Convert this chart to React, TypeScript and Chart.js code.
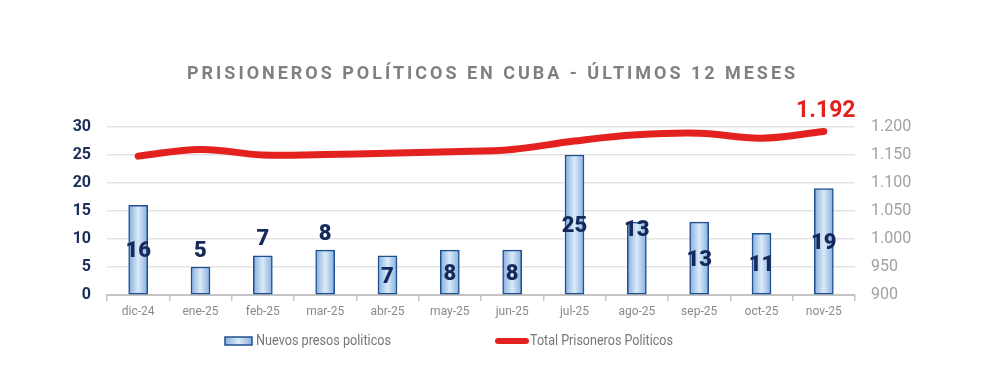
import React, { useEffect, useRef } from 'react';
import { Chart, registerables } from 'chart.js';

Chart.register(...registerables);

const categories = ['dic-24', 'ene-25', 'feb-25', 'mar-25', 'abr-25', 'may-25', 'jun-25', 'jul-25', 'ago-25', 'sep-25', 'oct-25', 'nov-25'];
const nuevosPresos = [16, 5, 7, 8, 7, 8, 8, 25, 13, 13, 11, 19];
const totalPrisioneros = [1148, 1160, 1150, 1151, 1153, 1156, 1160, 1175, 1186, 1189, 1180, 1192];
const labelPlacement = ['mid', 'above', 'above', 'above', 'mid', 'mid', 'mid', 'mid', 'top', 'mid', 'mid', 'mid'];
const titleText = 'PRISIONEROS POLÍTICOS EN CUBA - ÚLTIMOS 12 MESES';
const latestLabel = '1.192';
const seriesNames = ['Nuevos presos politicos', 'Total Prisoneros Politicos'];

const FONT = 'Roboto, "Noto Sans", sans-serif';
const NAVY = '#15295a';
const RED = '#e3211f';
const BAR_BORDER = '#1f4f8f';

function fmtThousands(v: number): string {
  if (Math.abs(v) >= 1000) {
    const t = Math.floor(v / 1000);
    const r = Math.round(v % 1000);
    return t + '.' + String(r).padStart(3, '0');
  }
  return String(v);
}

function barGradient(ctx: CanvasRenderingContext2D, x: number, half: number) {
  const g = ctx.createLinearGradient(x - half, 0, x + half, 0);
  g.addColorStop(0, '#84aede');
  g.addColorStop(0.5, '#dbeaf9');
  g.addColorStop(1, '#84aede');
  return g;
}

function fitText(ctx: CanvasRenderingContext2D, text: string, x: number, y: number, width: number) {
  const w = ctx.measureText(text).width;
  const sx = w > 0 ? width / w : 1;
  ctx.save();
  ctx.translate(x, y);
  ctx.scale(sx, 1);
  ctx.fillText(text, 0, 0);
  ctx.restore();
}

const decorPlugin = {
  id: 'decor',
  beforeDatasetsDraw(chart: any) {
    const meta = chart.getDatasetMeta(1);
    meta.data.forEach((bar: any) => {
      if (!isFinite(bar.x)) return;
      const half = (bar.width || 19) / 2;
      bar.options = Object.assign({}, bar.options, { backgroundColor: barGradient(chart.ctx, bar.x, half) });
    });
  },
  afterDraw(chart: any) {
    const ctx: CanvasRenderingContext2D = chart.ctx;
    // Title
    ctx.save();
    ctx.font = `bold 18px ${FONT}`;
    ctx.fillStyle = '#808080';
    ctx.textBaseline = 'middle';
    ctx.textAlign = 'left';
    const targetW = 608;
    const raw = ctx.measureText(titleText).width;
    const n = titleText.length;
    const ls = (targetW - raw) / (n - 1);
    (ctx as any).letterSpacing = ls.toFixed(2) + 'px';
    ctx.fillText(titleText, 187, 74);
    (ctx as any).letterSpacing = '0px';
    ctx.restore();

    // Bar value labels
    const meta = chart.getDatasetMeta(1);
    ctx.save();
    ctx.font = `900 22px ${FONT}`;
    ctx.fillStyle = NAVY;
    ctx.textAlign = 'center';
    ctx.textBaseline = 'middle';
    meta.data.forEach((bar: any, i: number) => {
      const p = labelPlacement[i];
      let y;
      if (p === 'above') y = bar.y - 16;
      else if (p === 'top') y = bar.y + 8;
      else y = (bar.y + bar.base) / 2 + 2;
      ctx.fillText(String(nuevosPresos[i]), bar.x, y);
    });
    ctx.restore();

    // Latest total annotation
    const lmeta = chart.getDatasetMeta(0);
    const last = lmeta.data[lmeta.data.length - 1];
    ctx.save();
    ctx.font = `bold 23px ${FONT}`;
    ctx.fillStyle = RED;
    ctx.textAlign = 'center';
    ctx.textBaseline = 'middle';
    ctx.fillText(latestLabel, last.x + 2, last.y - 20);
    ctx.restore();

    // Legend
    ctx.save();
    const ly = 341;
    ctx.fillStyle = barGradient(ctx, 238.5, 14);
    ctx.fillRect(225, ly - 4, 27, 8);
    ctx.strokeStyle = BAR_BORDER;
    ctx.lineWidth = 1.5;
    ctx.strokeRect(225, ly - 4, 27, 8);
    ctx.font = `15px ${FONT}`;
    ctx.fillStyle = '#777777';
    ctx.textAlign = 'left';
    ctx.textBaseline = 'middle';
    fitText(ctx, seriesNames[0], 256, ly, 135);
    ctx.strokeStyle = RED;
    ctx.lineWidth = 6;
    ctx.lineCap = 'round';
    ctx.beginPath();
    ctx.moveTo(498, ly);
    ctx.lineTo(526, ly);
    ctx.stroke();
    fitText(ctx, seriesNames[1], 530, ly, 143);
    ctx.restore();
  },
};

export default function App() {
  const ref = useRef<HTMLCanvasElement | null>(null);

  useEffect(() => {
    if (!ref.current) return;
    const chart = new Chart(ref.current, {
      data: {
        labels: categories,
        datasets: [
          {
            type: 'line',
            label: seriesNames[1],
            data: totalPrisioneros,
            yAxisID: 'y1',
            borderColor: RED,
            borderWidth: 7,
            borderCapStyle: 'round',
            tension: 0.4,
            pointRadius: 0,
            order: 0,
          } as any,
          {
            type: 'bar',
            label: seriesNames[0],
            data: nuevosPresos,
            yAxisID: 'y',
            barThickness: 19,
            borderColor: BAR_BORDER,
            borderWidth: 1.5,
            borderSkipped: false,
            backgroundColor: '#a9c8ec',
            order: 1,
          } as any,
        ],
      },
      options: {
        responsive: false,
        animation: false,
        layout: { padding: { top: 127, bottom: 49, left: 0, right: 0 } },
        plugins: {
          legend: { display: false },
          title: { display: false },
          tooltip: { enabled: false },
        },
        scales: {
          x: {
            offset: true,
            grid: {
              display: true,
              drawOnChartArea: false,
              offset: true,
              tickLength: 6,
              color: '#c4c4c4',
              lineWidth: 1.5,
            },
            border: { display: true, color: '#c4c4c4', width: 2 },
            ticks: {
              font: { family: FONT, size: 12 },
              color: '#8a8a8a',
              padding: 4,
              maxRotation: 0,
            },
            afterFit: (s: any) => {
              s.height = 30;
            },
          },
          y: {
            position: 'left',
            min: 0,
            max: 30,
            ticks: {
              stepSize: 5,
              font: { family: FONT, size: 16, weight: 'bold' },
              color: '#1c2d5a',
              padding: 16,
            },
            grid: { color: '#e4e4e6', lineWidth: 1.5, drawTicks: false },
            border: { display: false },
            afterFit: (s: any) => {
              s.width = 107;
            },
          },
          y1: {
            position: 'right',
            min: 900,
            max: 1200,
            ticks: {
              stepSize: 50,
              font: { family: FONT, size: 16 },
              color: '#a2a2a2',
              padding: 16,
              callback: (v: any) => fmtThousands(Number(v)),
            },
            grid: { display: false, drawTicks: false },
            border: { display: false },
            afterFit: (s: any) => {
              s.width = 137;
            },
          },
        },
      } as any,
      plugins: [decorPlugin],
    } as any);
    return () => chart.destroy();
  }, []);

  return (
    <div style={{ position: 'fixed', left: 0, top: 0, width: 992, height: 374, background: '#ffffff' }}>
      <canvas ref={ref} width={992} height={374} style={{ display: 'block', width: 992, height: 374 }} />
    </div>
  );
}
